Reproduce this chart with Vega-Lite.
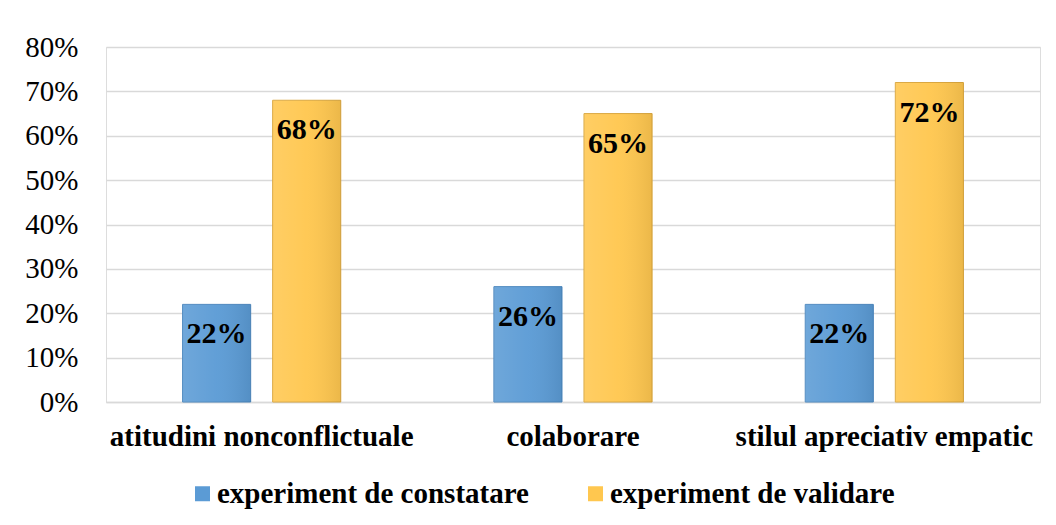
{
  "$schema": "https://vega.github.io/schema/vega-lite/v6.json",
  "autosize": "none",
  "width": 934,
  "height": 355,
  "padding": {"left": 106, "top": 47, "right": 16, "bottom": 123},
  "background": "white",
  "data": {"values": [
    {"cat": "atitudini nonconflictuale", "series": "experiment de constatare", "v": 0.22},
    {"cat": "atitudini nonconflictuale", "series": "experiment de validare", "v": 0.68},
    {"cat": "colaborare", "series": "experiment de constatare", "v": 0.26},
    {"cat": "colaborare", "series": "experiment de validare", "v": 0.65},
    {"cat": "stilul apreciativ empatic", "series": "experiment de constatare", "v": 0.22},
    {"cat": "stilul apreciativ empatic", "series": "experiment de validare", "v": 0.72}
  ]},
  "encoding": {
    "x": {"field": "cat", "type": "nominal", "sort": null,
      "scale": {"paddingInner": 0, "paddingOuter": 0},
      "axis": {"title": null, "labelAngle": 0, "ticks": false, "domain": true, "domainColor": "#D9D9D9", "domainWidth": 1.5,
        "labelFont": "Liberation Serif", "labelFontSize": 29, "labelFontWeight": "bold", "labelColor": "black", "labelPadding": 20, "labelLimit": 0}},
    "xOffset": {"field": "series", "type": "nominal", "scale": {"paddingInner": 0.244, "paddingOuter": 0.85}},
    "y": {"field": "v", "type": "quantitative",
      "scale": {"domain": [0, 0.8]},
      "axis": {"title": null, "format": ".0%", "values": [0,0.1,0.2,0.3,0.4,0.5,0.6,0.7,0.8], "ticks": false, "domain": false, "labelOverlap": false,
        "gridColor": "#D9D9D9", "gridWidth": 1.5,
        "labelFont": "Liberation Serif", "labelFontSize": 29, "labelColor": "black", "labelPadding": 28}}
  },
  "layer": [
    {"mark": {"type": "bar", "strokeWidth": 1},
     "encoding": {
       "color": {"field": "series", "type": "nominal",
         "scale": {"range": ["#5B9BD5", "#FFC74F"]},
         "legend": {"title": null, "orient": "none", "direction": "horizontal", "legendX": 82, "legendY": 432, "padding": 0,
           "symbolType": "square", "symbolSize": 225, "symbolStrokeWidth": 0,
           "labelFont": "Liberation Serif", "labelFontSize": 29, "labelFontWeight": "bold", "labelColor": "black",
           "columnPadding": 52, "labelOffset": 0, "labelLimit": 400}},
       "stroke": {"field": "series", "type": "nominal", "scale": {"range": ["#4A86BD", "#D9A53C"]}, "legend": null}
     }},
    {"mark": {"type": "bar", "fill": {"gradient": "linear", "x1": 0, "x2": 1, "y1": 0, "y2": 0,
        "stops": [{"offset": 0, "color": "rgba(255,255,255,0.12)"}, {"offset": 0.5, "color": "rgba(255,255,255,0.04)"}, {"offset": 1, "color": "rgba(0,0,0,0.08)"}]}},
     "encoding": {}},
    {"mark": {"type": "text", "baseline": "middle", "dy": 30, "font": "Liberation Serif", "fontSize": 30, "fontWeight": "bold", "color": "black"},
     "encoding": {"text": {"field": "v", "type": "quantitative", "format": ".0%"}}}
  ]
}
